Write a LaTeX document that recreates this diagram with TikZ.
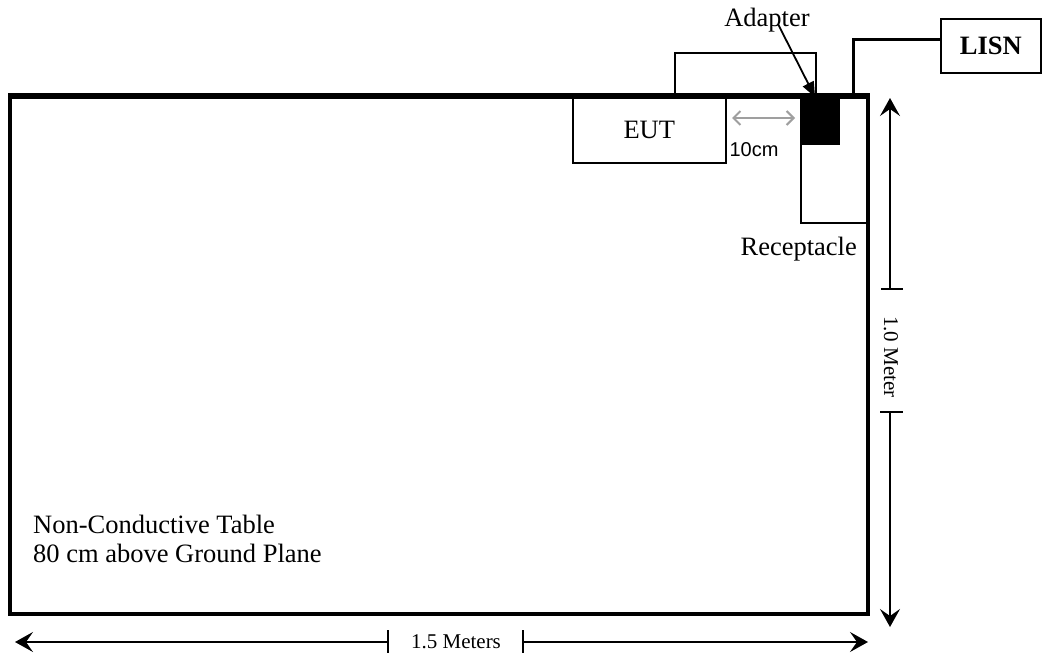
\documentclass[tikz,border=0pt]{standalone}
\usepackage{fontspec}
\setmainfont{Liberation Serif}
\newfontfamily\arialf{Liberation Sans}
\usetikzlibrary{arrows.meta}
\begin{document}
\begin{tikzpicture}[x=1pt,y=-1pt,
  thinbox/.style={draw, line width=1.6pt, rectangle, inner sep=0pt, anchor=north west},
  lbl/.style={font=\fontsize{26.5}{30}\selectfont, inner sep=0pt},
  dimlbl/.style={font=\fontsize{21}{24}\selectfont, inner sep=0pt},
  dimline/.style={line width=1.6pt},
  dimtip/.style={-{Stealth[length=18pt,width=20pt,inset=7pt]}},
  tick/.style={line width=1.6pt},
]
\useasboundingbox (0,0) rectangle (1042,656);
% table
\node[draw, line width=3.5pt, rectangle, inner sep=0pt, anchor=north west,
      minimum width=858pt, minimum height=517pt] (table) at (8,95) {};
% boxes
\node[thinbox, minimum width=141pt, minimum height=43pt] (topbox) at (674,52) {};
\node[thinbox, minimum width=153pt, minimum height=65pt] (eut) at (572,97) {};
\node[lbl] (eutlbl) at (eut.center) {EUT};
\node[thinbox, minimum width=66pt, minimum height=125pt] (recept) at (800,97) {};
\node[draw, fill=black, line width=1pt, rectangle, inner sep=0pt, anchor=north west,
      minimum width=39pt, minimum height=47pt] (adapter) at (800,97) {};
\node[thinbox, minimum width=100pt, minimum height=54pt] (lisn) at (940,18) {};
\node[font=\bfseries\fontsize{26.5}{30}\selectfont, inner sep=0pt] (lisnlbl) at (lisn.center) {LISN};
% redraw table top edge over boxes
\draw[line width=3.5pt] (table.north west) -- (table.north east);
% cable
\coordinate (plug) at (853,95);
\draw[line width=3pt] (plug) |- ([yshift=6pt]lisn.west);
% labels
\node[lbl, anchor=base] (adlbl) at (767,26) {Adapter};
\draw[line width=1.8pt, -{Triangle[length=15pt,width=12pt]}] ([xshift=11pt,yshift=2pt]adlbl.base) -- ([xshift=-5pt]adapter.north);
\node[font=\arialf\fontsize{20}{24}\selectfont, inner sep=0pt] (tencm) at (754,150) {10cm};
\coordinate (ga) at (732,118);
\coordinate (gb) at (795,118);
\draw[gray!75, line width=2pt, {Straight Barb[length=7pt,width=14pt]}-{Straight Barb[length=7pt,width=14pt]}] (ga) -- (gb);
\node[lbl, anchor=base east] (reclbl) at (857,255) {Receptacle};
\node[lbl, anchor=base west] (nct1) at (33,533) {Non-Conductive Table};
\node[lbl, anchor=base west] (nct2) at (33,562) {80 cm above Ground Plane};
% vertical dimension
\node[dimlbl, rotate=-90] (vlbl) at (891,357) {1.0 Meter};
\coordinate (vt1) at (890,289);
\coordinate (vt2) at (890,412);
\coordinate (vtop) at (890,98);
\coordinate (vbot) at (890,627);
\draw[dimline, dimtip] (vt1) -- (vtop);
\draw[dimline, dimtip] (vt2) -- (vbot);
\draw[tick] ([xshift=-9pt]vt1) -- ([xshift=13pt]vt1);
\draw[tick] ([xshift=-10pt]vt2) -- ([xshift=13pt]vt2);
% horizontal dimension
\node[dimlbl] (hlbl) at (456,642) {1.5 Meters};
\coordinate (ht1) at (388,642);
\coordinate (ht2) at (523,642);
\coordinate (hleft) at (15,642);
\coordinate (hright) at (868,642);
\draw[dimline, dimtip] (ht1) -- (hleft);
\draw[dimline, dimtip] (ht2) -- (hright);
\draw[tick] ([yshift=12pt]ht1) -- ([yshift=-11pt]ht1);
\draw[tick] ([yshift=12pt]ht2) -- ([yshift=-11pt]ht2);
\end{tikzpicture}
\end{document}
